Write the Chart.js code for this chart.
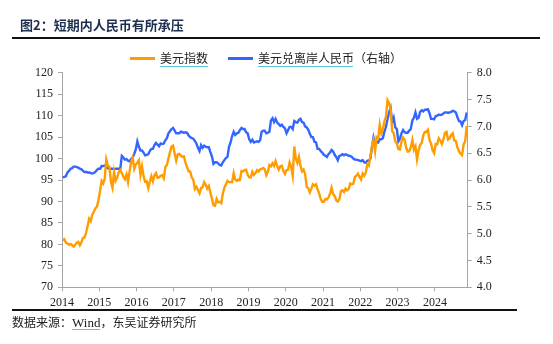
<!DOCTYPE html>
<html><head><meta charset="utf-8">
<script src="https://cdn.jsdelivr.net/npm/chart.js@4/dist/chart.umd.min.js"></script>
<style>
html,body{margin:0;padding:0;background:#fff;}
#wrap{position:relative;width:553px;height:344px;overflow:hidden;background:#fff;}
canvas{position:absolute;left:0;top:0;}
.t{position:absolute;white-space:nowrap;font-family:"Noto Sans CJK SC",sans-serif;line-height:1;}
.ln{position:absolute;}
</style></head><body>
<div id="wrap">
<canvas id="c" width="553" height="344"></canvas>
<div class="t" style="left:20px;top:18px;font-size:13px;font-weight:bold;color:#1f2f4f;">图2：短期内人民币有所承压</div>
<div class="ln" style="left:12px;top:37px;width:528px;height:2px;background:#111;"></div>
<div class="ln" style="left:130px;top:57px;width:25px;height:2.5px;background:#ff9c00;"></div>
<div class="t" style="left:160px;top:52px;font-size:12px;color:#222;">美元指数</div>
<div class="ln" style="left:160px;top:66px;width:48px;height:1px;background:#5cc6d8;"></div>
<div class="ln" style="left:228px;top:57px;width:25px;height:2.5px;background:#3366ff;"></div>
<div class="t" style="left:258px;top:52px;font-size:12px;color:#222;">美元兑离岸人民币（右轴）</div>
<div class="ln" style="left:258px;top:66px;width:95px;height:1px;background:#5cc6d8;"></div>
<div class="ln" style="left:12px;top:309px;width:505px;height:2px;background:#111;"></div>
<div class="t" style="left:12px;top:316px;font-size:12px;color:#222;">数据来源：<span style="font-family:'Liberation Serif',serif;font-size:13px;">Wind</span>，东吴证券研究所</div>
<div class="ln" style="left:72px;top:329px;width:28px;height:1px;background:#5cc6d8;"></div>
</div>
<script>
// 美元指数 (semi-monthly, Jan 2014 - mid Nov 2024)
const dxy = [
 81.0,81.2,80.4,80.2,79.9,80.1,79.8,79.5,79.9,80.4,80.6,79.8,80.5,81.5,81.6,82.7,84.3,86.0,85.4,86.9,87.6,88.4,88.8,90.3,
 92.5,94.8,94.2,95.3,99.8,98.4,98.0,94.6,93.2,96.9,94.8,95.5,96.8,97.3,96.6,95.8,95.2,96.3,94.5,97.0,99.2,100.2,97.6,98.6,
 99.0,99.6,96.2,98.2,95.9,94.6,94.7,93.1,94.6,95.9,94.7,96.1,96.6,95.5,95.6,96.0,96.1,95.4,98.0,98.5,100.0,101.5,102.8,103.0,
 101.2,99.5,101.0,101.1,100.7,100.4,100.5,99.0,98.0,97.0,97.0,95.6,95.1,92.9,93.4,92.7,91.9,93.1,93.3,94.5,93.9,93.0,93.6,92.1,
 90.6,89.1,89.0,90.6,89.8,89.9,89.6,91.8,93.2,94.0,94.8,94.5,94.5,94.5,96.6,95.1,94.8,95.1,95.0,97.1,97.0,97.3,97.4,96.2,
 95.6,95.6,96.9,96.2,96.6,97.3,97.0,97.5,97.6,97.8,97.5,96.1,96.9,98.5,98.2,98.9,98.3,99.4,98.3,97.4,98.2,98.3,97.1,96.4,
 97.3,97.4,99.1,98.1,96.0,102.8,100.0,99.0,100.4,98.3,97.0,97.4,96.3,93.4,93.1,92.1,93.0,94.0,93.7,94.0,92.8,91.9,90.6,89.9,
 89.9,90.6,90.5,90.9,91.8,93.2,91.7,91.3,90.3,90.0,90.5,92.4,92.6,92.2,93.0,92.6,92.9,94.2,94.0,94.1,95.7,96.0,96.5,95.7,
 95.1,96.5,96.0,96.7,98.6,98.3,100.5,102.9,104.3,101.7,105.0,104.7,107.9,105.9,106.7,108.7,109.7,113.6,112.9,111.5,106.4,105.9,104.0,103.5,
 102.2,102.1,103.9,104.9,104.4,102.5,101.6,101.7,102.6,104.3,102.1,102.9,99.8,101.9,103.2,103.6,105.4,106.2,106.2,106.7,104.4,103.5,102.0,101.3,
 103.4,103.3,104.7,104.2,103.4,104.5,106.0,106.2,104.4,104.7,105.5,105.9,104.2,104.1,102.6,101.7,101.1,100.8,103.3,104.0,107.6
];
// 美元兑离岸人民币 (semi-monthly)
const cnh = [
 6.05,6.06,6.07,6.14,6.17,6.21,6.22,6.25,6.25,6.24,6.23,6.21,6.20,6.17,6.15,6.15,6.14,6.14,6.13,6.12,6.13,6.15,6.19,6.21,
 6.21,6.26,6.26,6.27,6.24,6.22,6.21,6.21,6.21,6.20,6.21,6.21,6.21,6.21,6.45,6.42,6.38,6.39,6.36,6.35,6.39,6.42,6.49,6.57,
 6.72,6.62,6.55,6.55,6.51,6.46,6.47,6.48,6.54,6.58,6.58,6.65,6.69,6.66,6.63,6.68,6.67,6.68,6.74,6.78,6.87,6.91,6.95,6.97,
 6.92,6.87,6.87,6.87,6.90,6.89,6.88,6.89,6.88,6.83,6.80,6.78,6.77,6.73,6.68,6.60,6.54,6.65,6.60,6.64,6.62,6.61,6.61,6.52,
 6.44,6.30,6.33,6.33,6.31,6.28,6.27,6.33,6.37,6.41,6.43,6.62,6.70,6.82,6.90,6.84,6.87,6.88,6.93,6.97,6.95,6.95,6.89,6.87,
 6.76,6.71,6.75,6.70,6.71,6.72,6.71,6.74,6.90,6.92,6.92,6.87,6.88,6.90,7.11,7.15,7.08,7.14,7.07,7.04,7.01,7.03,6.99,6.96,
 6.87,6.93,6.99,6.99,6.95,7.10,7.08,7.07,7.12,7.14,7.08,7.07,7.00,6.98,6.94,6.86,6.80,6.80,6.71,6.70,6.58,6.58,6.54,6.51,
 6.47,6.45,6.43,6.48,6.51,6.56,6.53,6.47,6.43,6.37,6.45,6.46,6.48,6.46,6.48,6.47,6.45,6.45,6.43,6.40,6.38,6.38,6.37,6.36,
 6.35,6.37,6.33,6.32,6.36,6.36,6.40,6.61,6.79,6.67,6.71,6.70,6.76,6.76,6.78,6.90,6.99,7.13,7.26,7.34,7.08,7.16,6.98,6.95,
 6.72,6.77,6.87,6.93,6.89,6.88,6.88,6.92,6.95,7.11,7.16,7.26,7.14,7.16,7.27,7.30,7.28,7.31,7.31,7.32,7.25,7.14,7.14,7.13,
 7.19,7.20,7.22,7.21,7.22,7.24,7.26,7.26,7.25,7.26,7.27,7.29,7.28,7.26,7.17,7.10,7.09,7.02,7.10,7.12,7.26
];
const years = [2014,2015,2016,2017,2018,2019,2020,2021,2022,2023,2024];
const startYear = 2014, pointsPerYear = 24;

const toPts = arr => arr.map((v,i)=>({x: startYear + (i+0.5)/pointsPerYear, y: v}));
const axisColor = '#a6a6a6';
const tickFont = {family:'"Liberation Serif", serif', size:12};

new Chart(document.getElementById('c'), {
  type: 'line',
  data: { datasets: [
    {label:'美元指数', data: toPts(dxy), borderColor:'#ff9c00', yAxisID:'y', borderWidth:2.4, pointRadius:0, tension:0},
    {label:'美元兑离岸人民币（右轴）', data: toPts(cnh), borderColor:'#3366ff', yAxisID:'y1', borderWidth:2.4, pointRadius:0, tension:0}
  ]},
  options: {
    responsive:false, animation:false, events:[],
    layout:{padding:{top:72.7,left:0,right:0,bottom:0}},
    plugins:{legend:{display:false}, tooltip:{enabled:false}},
    scales:{
      x:{type:'linear', min:2014, max:2024.88,
        afterBuildTicks: s => { s.ticks = years.map(v=>({value:v})); },
        afterFit: s => { s.height = 56.7; },
        ticks:{autoSkip:false, maxRotation:0, padding:4, color:'#222', font:tickFont, callback:v=>String(v)},
        grid:{drawOnChartArea:false, drawTicks:true, tickLength:4, color:axisColor},
        border:{color:axisColor}},
      y:{position:'left', min:70, max:120,
        afterFit: s => { s.width = 62; },
        ticks:{stepSize:5, padding:5, color:'#222', font:tickFont},
        grid:{drawOnChartArea:false, drawTicks:true, tickLength:4, color:axisColor},
        border:{color:axisColor}},
      y1:{position:'right', min:4, max:8,
        afterFit: s => { s.width = 85.3; },
        ticks:{stepSize:0.5, padding:5, color:'#222', font:tickFont, callback:v=>Number(v).toFixed(1)},
        grid:{drawOnChartArea:false, drawTicks:true, tickLength:4, color:axisColor},
        border:{color:axisColor}}
    }
  }
});
</script>
</body></html>
